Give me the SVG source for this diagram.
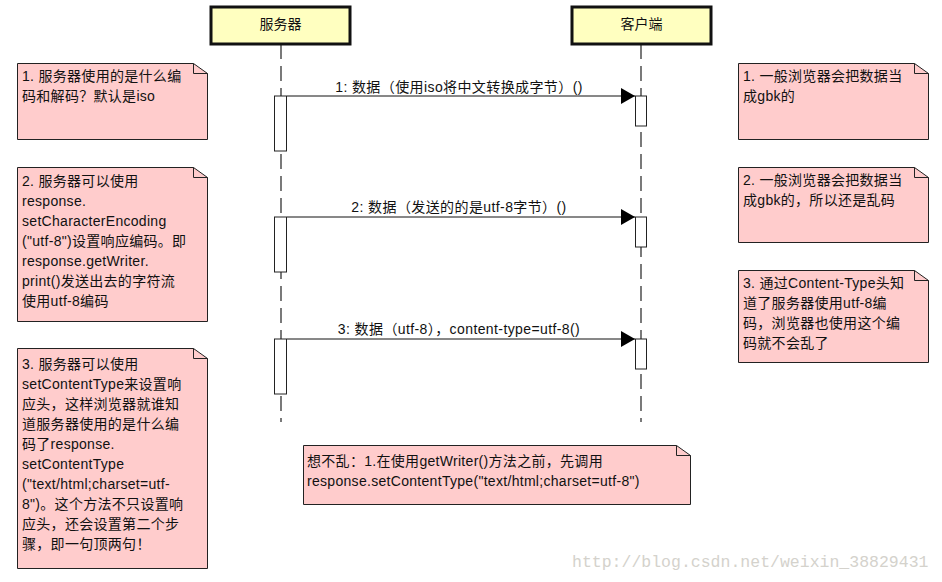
<svg xmlns="http://www.w3.org/2000/svg" width="942" height="582" viewBox="0 0 942 582">
<style>
text{font-family:"Liberation Sans","Noto Sans CJK SC",sans-serif;fill:#111}
.t{font-size:14px;text-anchor:middle}
.n{font-size:14px;letter-spacing:0.3px}
.m{font-size:14px;letter-spacing:0.4px;text-anchor:middle}
.head{fill:#ffffc0;stroke:#111;stroke-width:3}
.note{fill:#ffcccc;stroke:#222;stroke-width:1}
.fold{fill:none;stroke:#222;stroke-width:1}
.life{stroke:#222;stroke-width:1.2;stroke-dasharray:15 7;fill:none}
.act{fill:#fff;stroke:#222;stroke-width:1}
.msg{stroke:#111;stroke-width:1;fill:none;marker-end:url(#ah)}
.wm{font-family:"Liberation Mono",monospace;font-size:16.5px;fill:#d4d2cc}
</style>
<defs>
<marker id="ah" markerWidth="14" markerHeight="16" refX="14" refY="8" orient="auto" markerUnits="userSpaceOnUse">
<path d="M0,0 L14,8 L0,16 Z" fill="#000"/>
</marker>
</defs>
<rect width="942" height="582" fill="#fff"/>

<g id="server">
<line class="life" x1="281" y1="44" x2="281" y2="422"/>
<rect class="head" x="211" y="7" width="139" height="37"/>
<text class="t" x="280.5" y="29">服务器</text>
<rect class="act" x="274.5" y="96" width="12" height="55"/>
<rect class="act" x="274.5" y="217" width="12" height="55"/>
<rect class="act" x="274.5" y="339" width="12" height="55"/>
</g>

<g id="client">
<line class="life" x1="641" y1="44" x2="641" y2="422"/>
<rect class="head" x="572" y="7" width="139" height="37"/>
<text class="t" x="641.5" y="29">客户端</text>
<rect class="act" x="635.5" y="96" width="11" height="30"/>
<rect class="act" x="635.5" y="217" width="11" height="30"/>
<rect class="act" x="635.5" y="339" width="11" height="30"/>
</g>

<g id="messages">
<line class="msg" x1="287" y1="96" x2="635" y2="96"/>
<text class="m" x="459" y="92">1: 数据（使用iso将中文转换成字节）()</text>
<line class="msg" x1="287" y1="217" x2="635" y2="217"/>
<text class="m" x="459" y="212">2: 数据（发送的的是utf-8字节）()</text>
<line class="msg" x1="287" y1="339" x2="635" y2="339"/>
<text class="m" x="459" y="334">3: 数据（utf-8），content-type=utf-8()</text>
</g>

<g id="note-l1">
<path class="note" d="M17.5,63.5 H193.5 L207.5,73.5 V139.5 H17.5 Z"/>
<path class="fold" d="M193.5,63.5 V73.5 H207.5"/>
<text class="n" x="22" y="81">1. 服务器使用的是什么编</text>
<text class="n" x="22" y="101">码和解码？默认是iso</text>
</g>

<g id="note-l2">
<path class="note" d="M17.5,167.5 H193.5 L207.5,177.5 V321.5 H17.5 Z"/>
<path class="fold" d="M193.5,167.5 V177.5 H207.5"/>
<text class="n" x="22" y="186">2. 服务器可以使用</text>
<text class="n" x="22" y="206">response.</text>
<text class="n" x="22" y="226">setCharacterEncoding</text>
<text class="n" x="22" y="246">("utf-8")设置响应编码。即</text>
<text class="n" x="22" y="266">response.getWriter.</text>
<text class="n" x="22" y="286">print()发送出去的字符流</text>
<text class="n" x="22" y="306">使用utf-8编码</text>
</g>

<g id="note-l3">
<path class="note" d="M17.5,348.5 H193.5 L207.5,358.5 V568.5 H17.5 Z"/>
<path class="fold" d="M193.5,348.5 V358.5 H207.5"/>
<text class="n" x="22" y="369">3. 服务器可以使用</text>
<text class="n" x="22" y="389">setContentType来设置响</text>
<text class="n" x="22" y="409">应头，这样浏览器就谁知</text>
<text class="n" x="22" y="429">道服务器使用的是什么编</text>
<text class="n" x="22" y="449">码了response.</text>
<text class="n" x="22" y="469">setContentType</text>
<text class="n" x="22" y="489">("text/html;charset=utf-</text>
<text class="n" x="22" y="509">8")。这个方法不只设置响</text>
<text class="n" x="22" y="529">应头，还会设置第二个步</text>
<text class="n" x="22" y="549">骤，即一句顶两句！</text>
</g>

<g id="note-r1">
<path class="note" d="M738.5,63.5 H914.5 L928.5,73.5 V139.5 H738.5 Z"/>
<path class="fold" d="M914.5,63.5 V73.5 H928.5"/>
<text class="n" x="743" y="81">1. 一般浏览器会把数据当</text>
<text class="n" x="743" y="101">成gbk的</text>
</g>

<g id="note-r2">
<path class="note" d="M738.5,167.5 H914.5 L928.5,177.5 V242.5 H738.5 Z"/>
<path class="fold" d="M914.5,167.5 V177.5 H928.5"/>
<text class="n" x="743" y="185">2. 一般浏览器会把数据当</text>
<text class="n" x="743" y="205">成gbk的，所以还是乱码</text>
</g>

<g id="note-r3">
<path class="note" d="M738.5,270.5 H914.5 L928.5,280.5 V362.5 H738.5 Z"/>
<path class="fold" d="M914.5,270.5 V280.5 H928.5"/>
<text class="n" x="743" y="288">3. 通过Content-Type头知</text>
<text class="n" x="743" y="308">道了服务器使用utf-8编</text>
<text class="n" x="743" y="328">码，浏览器也使用这个编</text>
<text class="n" x="743" y="348">码就不会乱了</text>
</g>

<g id="note-bottom">
<path class="note" d="M303.5,445.5 H676.5 L690.5,455.5 V504.5 H303.5 Z"/>
<path class="fold" d="M676.5,445.5 V455.5 H690.5"/>
<text class="n" x="307" y="466">想不乱：1.在使用getWriter()方法之前，先调用</text>
<text class="n" x="307" y="486">response.setContentType("text/html;charset=utf-8")</text>
</g>

<text class="wm" x="572" y="567">http://blog.csdn.net/weixin_38829431</text>
</svg>
